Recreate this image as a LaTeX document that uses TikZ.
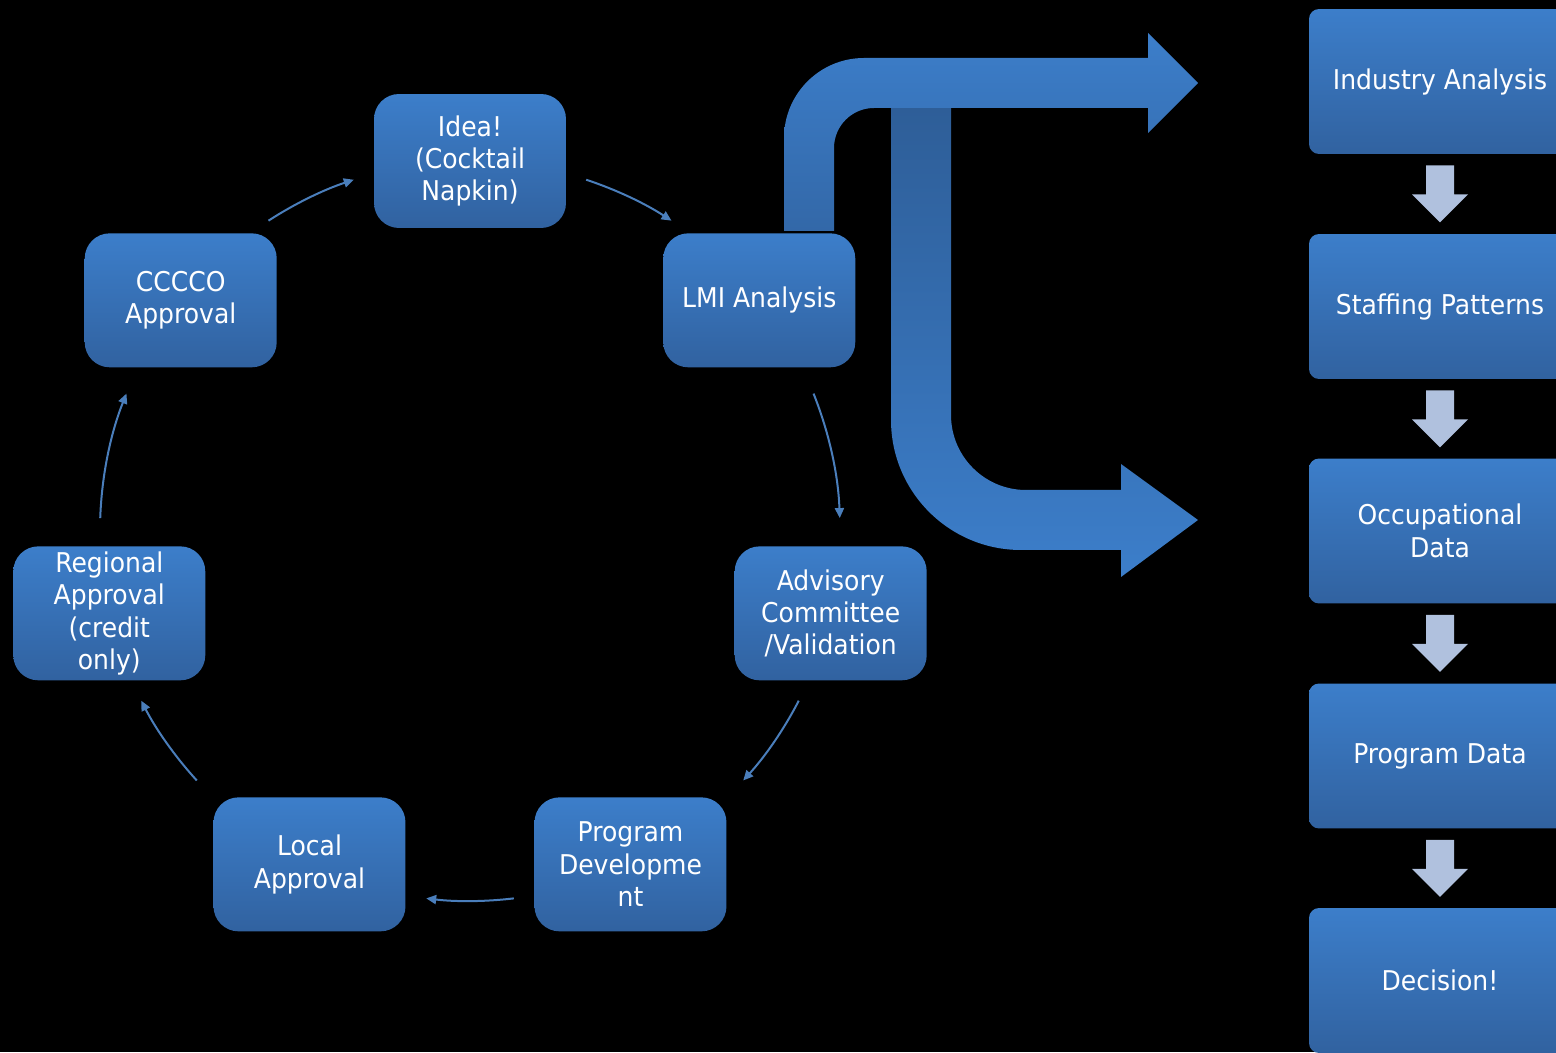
\documentclass[tikz,border=0pt]{standalone}
\usepackage{fontspec}
\setmainfont{DejaVu Sans}[FakeStretch=0.92]
\usepackage{tikz}
\usetikzlibrary{calc, arrows.meta}
\definecolor{boxTop}{RGB}{60, 126, 202}
\definecolor{boxBot}{RGB}{49, 98, 160}
\definecolor{lineBlue}{RGB}{74, 126, 187}
\definecolor{flowGrey}{RGB}{176, 193, 222}
\definecolor{bendDark}{RGB}{46, 94, 152}
\definecolor{bendLow}{RGB}{51, 104, 168}

\begin{document}
\begin{tikzpicture}[x=0.02cm, y=0.02cm, >={Triangle[length=2mm, width=1.8mm]},
  font=\fontsize{15.5}{18.4}\selectfont,
  cyclebox/.style={rounded corners=0.5cm, top color=boxTop, bottom color=boxBot,
    text=white, align=center, minimum width=3.84cm, minimum height=2.68cm, inner sep=2pt},
  stepbox/.style={rounded corners=0.2cm, top color=boxTop, bottom color=boxBot,
    text=white, align=center, minimum width=5.24cm, minimum height=2.9cm},
  cyclearrow/.style={->, lineBlue, line width=0.04cm}]
  \useasboundingbox (0,0) rectangle (1556,1052);
  \fill[black] (0,0) rectangle (1556,1052);
  % Bent arrow to the data column
  \shade[top color=bendDark, bottom color=boxTop]
    (891,944) -- (891,632) arc[start angle=180, end angle=270, radius=130]
    -- (1121,502) -- (1121,475) -- (1198,532) -- (1121,588) -- (1121,562)
    -- (1026,562) arc[start angle=270, end angle=180, radius=75] -- (951,944) -- cycle;
  \shade[top color=boxTop, bottom color=bendLow]
    (784,821) -- (784,914) arc[start angle=180, end angle=90, radius=80]
    -- (1148,994) -- (1148,1019) -- (1198,969) -- (1148,919) -- (1148,944)
    -- (874,944) arc[start angle=90, end angle=180, radius=40] -- (834,821) -- cycle;
  % Cycle
  \coordinate (ctr) at (470,521);
  \foreach \ang/\name/\txt in {90/idea/{Idea!\\(Cocktail\\Napkin)}, 38.57/lmi/{LMI Analysis},
      -12.86/adv/{Advisory\\Committee\\/Validation}, -64.29/prog/{Program\\Developme\\nt},
      -115.71/local/{Local\\Approval}, -167.14/reg/{Regional\\Approval\\(credit\\only)},
      141.43/cccco/{CCCCO\\Approval}}
    \node[cyclebox] (\name) at ($(ctr)+(\ang:370)$) {\txt};
  \foreach \s/\e [count=\i] in {71.7/57, 21.8/2, -27.3/-42.4, -83.2/-96.8,
      -137.6/-152.7, 178/158.2, 123/108.3} {
    \coordinate (arc\i) at ($(ctr)+(\s:370)$);
    \draw[cyclearrow] (arc\i) arc[start angle=\s, end angle=\e, radius=370];
  }
  % Data column
  \foreach \y/\name/\txt in {970.5/ind/{Industry Analysis}, 745.5/staff/{Staffing Patterns},
      521/occ/{Occupational\\Data}, 296/pdata/{Program Data}, 71.5/dec/{Decision!}}
    \node[stepbox] (\name) at (1440,\y) {\txt};
  \foreach \a in {ind, staff, occ, pdata}
    \fill[flowGrey] ($(\a.south)+(-14,-11)$) -- ++(28,0) -- ++(0,-29) -- ++(14,0)
      -- ++(-28,-28) -- ++(-28,28) -- ++(14,0) -- cycle;
\end{tikzpicture}
\end{document}
